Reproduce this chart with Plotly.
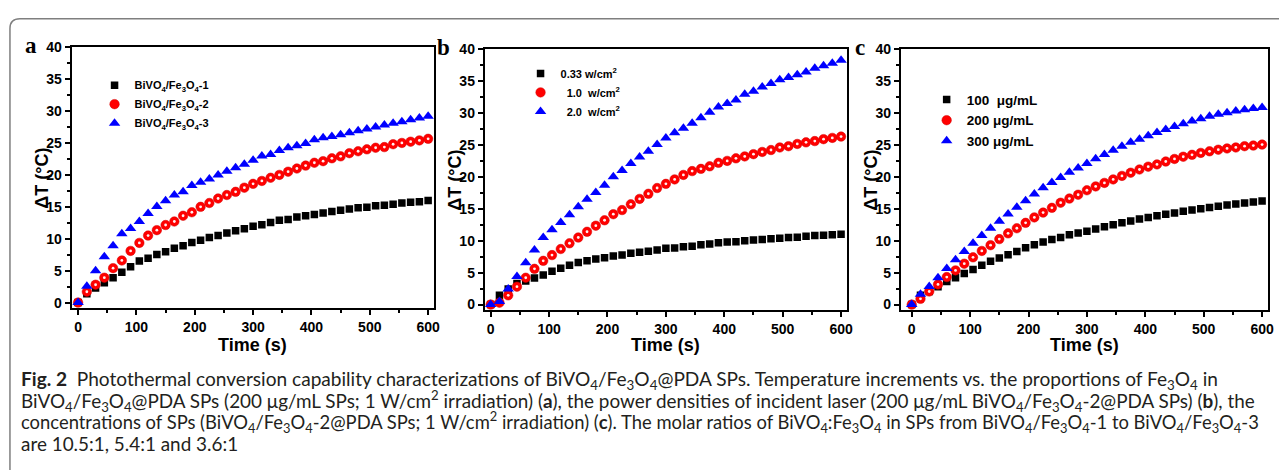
import plotly.graph_objects as go

W, H = 1285, 472

time_s = list(range(0, 601, 15))

# Panel a: proportions of Fe3O4
a_names = ["BiVO<sub>4</sub>/Fe<sub>3</sub>O<sub>4</sub>-1",
           "BiVO<sub>4</sub>/Fe<sub>3</sub>O<sub>4</sub>-2",
           "BiVO<sub>4</sub>/Fe<sub>3</sub>O<sub>4</sub>-3"]
a1 = [0, 1.4, 2.3, 3.1, 3.9, 4.75, 5.6, 6.5, 6.95, 7.55, 7.95, 8.5, 8.9, 9.4, 9.75, 10.2, 10.5, 10.9,
      11.25, 11.55, 11.95, 12.2, 12.55, 12.9, 13.0, 13.4, 13.6, 13.8, 14.05, 14.25, 14.45, 14.65, 14.85,
      14.95, 15.15, 15.25, 15.4, 15.6, 15.7, 15.8, 16.0]
a2 = [0, 1.7, 2.8, 3.9, 5.4, 6.6, 8.1, 9.35, 10.5, 11.35, 12.15, 12.7, 13.6, 14.15, 15.0, 15.6, 16.3,
      16.85, 17.35, 18.0, 18.6, 19.05, 19.55, 20.0, 20.5, 21.0, 21.45, 21.9, 22.15, 22.6, 22.9, 23.4,
      23.7, 24.0, 24.25, 24.35, 24.8, 25.0, 25.2, 25.4, 25.65]
a3 = [0, 2.55, 5.0, 7.2, 8.9, 10.8, 11.6, 12.7, 13.95, 15.05, 15.95, 16.85, 17.35, 18.35, 18.85, 19.35,
      20.0, 20.55, 21.1, 21.65, 22.3, 22.95, 23.2, 23.8, 24.25, 24.55, 24.9, 25.5, 25.8, 26.0, 26.3,
      26.6, 26.9, 27.2, 27.5, 27.8, 28.1, 28.3, 28.65, 28.9, 29.2]

# Panel b: power densities
b_names = ["0.33 w/cm<sup>2</sup>", "\u00a0\u00a01.0\u00a0\u00a0w/cm<sup>2</sup>",
           "\u00a0\u00a02.0\u00a0\u00a0w/cm<sup>2</sup>"]
b1 = [0, 1.45, 2.45, 3.3, 3.7, 4.15, 4.65, 5.2, 5.7, 6.15, 6.6, 6.85, 7.15, 7.35, 7.6, 7.75, 8.05,
      8.2, 8.35, 8.55, 8.8, 8.85, 9.05, 9.15, 9.35, 9.5, 9.7, 9.8, 9.85, 10.0, 10.1, 10.2, 10.3, 10.4,
      10.5, 10.55, 10.7, 10.8, 10.85, 10.95, 11.0]
b2 = [0, 0.3, 1.45, 2.8, 4.2, 5.6, 6.85, 7.75, 8.7, 9.6, 10.5, 11.4, 12.35, 13.2, 14.15, 14.8, 15.7,
      16.55, 17.35, 18.25, 18.9, 19.6, 20.3, 20.9, 21.25, 21.65, 22.2, 22.5, 22.9, 23.2, 23.55, 23.9,
      24.2, 24.6, 24.8, 25.15, 25.4, 25.6, 25.9, 26.1, 26.3]
b3 = [0, 0.5, 2.45, 4.4, 6.55, 8.55, 10.5, 11.7, 12.85, 14.05, 15.3, 16.5, 17.55, 18.7, 20.0, 21.0,
      22.1, 23.1, 24.0, 25.05, 26.1, 26.9, 27.6, 28.4, 29.25, 30.1, 30.95, 31.5, 32.05, 32.95, 33.4,
      34.05, 34.6, 35.2, 35.55, 36.0, 36.4, 37.0, 37.4, 37.8, 38.25]

# Panel c: concentrations
c_names = ["100\u00a0\u00a0\u03bcg/mL", "200 \u03bcg/mL", "300 \u03bcg/mL"]
c1 = [0, 1.45, 2.05, 2.8, 3.6, 4.2, 4.85, 5.5, 6.15, 6.8, 7.3, 7.8, 8.3, 8.9, 9.35, 9.8, 10.2, 10.5,
      10.95, 11.2, 11.5, 11.85, 12.2, 12.5, 12.8, 13.1, 13.4, 13.65, 13.9, 14.15, 14.35, 14.6, 14.8,
      15.0, 15.2, 15.4, 15.6, 15.75, 15.9, 16.05, 16.2]
c2 = [0, 0.9, 2.05, 3.15, 4.3, 5.35, 6.4, 7.4, 8.4, 9.3, 10.25, 11.15, 11.95, 12.8, 13.65, 14.4, 15.15,
      15.95, 16.6, 17.2, 17.9, 18.5, 19.05, 19.6, 20.15, 20.65, 21.15, 21.6, 21.95, 22.4, 22.8, 23.15,
      23.45, 23.75, 24.0, 24.25, 24.45, 24.6, 24.8, 24.9, 25.05]
c3 = [0, 1.6, 2.85, 4.2, 5.65, 7.0, 8.3, 9.6, 10.8, 11.95, 13.05, 14.2, 15.25, 16.25, 17.3, 18.3, 19.1,
      19.9, 20.7, 21.4, 22.1, 22.85, 23.5, 24.15, 24.8, 25.4, 25.9, 26.45, 26.95, 27.4, 27.9, 28.3,
      28.75, 29.1, 29.5, 29.8, 30.05, 30.3, 30.5, 30.7, 30.85]

panel_letters = ["a", "b", "c"]
x_title = "Time (s)"
y_title = "\u0394T (\u00b0C)"

caption_lines = [
    "<b>Fig. 2</b>\u00a0\u00a0Photothermal conversion capability characterizations of BiVO<sub>4</sub>/Fe<sub>3</sub>O<sub>4</sub>@PDA SPs. Temperature increments vs. the proportions of Fe<sub>3</sub>O<sub>4</sub> in",
    "BiVO<sub>4</sub>/Fe<sub>3</sub>O<sub>4</sub>@PDA SPs (200 \u03bcg/mL SPs; 1 W/cm<sup>2</sup> irradiation) (<b>a</b>), the power densities of incident laser (200 \u03bcg/mL BiVO<sub>4</sub>/Fe<sub>3</sub>O<sub>4</sub>-2@PDA SPs) (<b>b</b>), the",
    "concentrations of SPs (BiVO<sub>4</sub>/Fe<sub>3</sub>O<sub>4</sub>-2@PDA SPs; 1 W/cm<sup>2</sup> irradiation) (<b>c</b>). The molar ratios of BiVO<sub>4</sub>:Fe<sub>3</sub>O<sub>4</sub> in SPs from BiVO<sub>4</sub>/Fe<sub>3</sub>O<sub>4</sub>-1 to BiVO<sub>4</sub>/Fe<sub>3</sub>O<sub>4</sub>-3",
    "are 10.5:1, 5.4:1 and 3.6:1",
]

def px(x):
    return x / W

def py(y):
    return 1 - y / H

# panel geometry (pixels): left, right, top, bottom, xrange, yrange
panels = [
    dict(l=72, r=436, t=40, b=307, xr=[-11, 610], yr=[-0.92, 40],
         series=(a1, a2, a3), names=a_names, leg=(95, 64), legfont=11),
    dict(l=487, r=851, t=42, b=309, xr=[-10.2, 610.2], yr=[-0.92, 40],
         series=(b1, b2, b3), names=b_names, leg=(523, 52), legfont=11),
    dict(l=905, r=1274, t=42, b=309, xr=[-18.75, 610.2], yr=[-0.92, 40],
         series=(c1, c2, c3), names=c_names, leg=(931, 78), legfont=13.5),
]

BOLD = dict(family="Liberation Sans, Arial", color="#000000", weight="bold")

fig = go.Figure()
annotations = []
layout_axes = {}

for i, p in enumerate(panels):
    n = i + 1
    xa = "x" if n == 1 else f"x{n}"
    ya = "y" if n == 1 else f"y{n}"
    legname = "legend" if n == 1 else f"legend{n}"
    s1, s2, s3 = p["series"]
    fig.add_trace(go.Scatter(x=time_s, y=s1, mode="markers", name=p["names"][0],
                             xaxis=xa, yaxis=ya, legend=legname,
                             marker=dict(symbol="square", size=7.5, color="#000000")))
    fig.add_trace(go.Scatter(x=time_s, y=s2, mode="markers", name=p["names"][1],
                             xaxis=xa, yaxis=ya, legend=legname,
                             marker=dict(symbol="circle", size=9.5, color="#ff0000",
                                         line=dict(color="#d00000", width=0.5))))
    fig.add_trace(go.Scatter(x=time_s, y=s2, mode="markers", showlegend=False, hoverinfo="skip",
                             xaxis=xa, yaxis=ya,
                             marker=dict(symbol="circle", size=2.8, color="#fff0f0")))
    fig.add_trace(go.Scatter(x=time_s, y=s3, mode="markers", name=p["names"][2],
                             xaxis=xa, yaxis=ya, legend=legname,
                             marker=dict(symbol="triangle-up", size=10, color="#0000ff")))

    axis_common = dict(showline=True, linewidth=2, linecolor="#000000", mirror=True,
                       showgrid=False, zeroline=False, ticks="outside", ticklen=5,
                       tickwidth=1.5, tickcolor="#000000",
                       tickfont=dict(BOLD, size=14))
    layout_axes["xaxis" if n == 1 else f"xaxis{n}"] = dict(
        axis_common, domain=[px(p["l"]), px(p["r"])], range=p["xr"],
        anchor=ya, tickmode="linear", tick0=0, dtick=100,
        minor=dict(dtick=50, tick0=0, ticks="outside", ticklen=3, tickwidth=1.5,
                   tickcolor="#000000", showgrid=False))
    layout_axes["yaxis" if n == 1 else f"yaxis{n}"] = dict(
        axis_common, domain=[py(p["b"]), py(p["t"])], range=p["yr"],
        anchor=xa, tickmode="linear", tick0=0, dtick=5,
        minor=dict(dtick=2.5, tick0=0, ticks="outside", ticklen=3, tickwidth=1.5,
                   tickcolor="#000000", showgrid=False))
    layout_axes[legname] = dict(
        x=px(p["leg"][0]), y=py(p["leg"][1]), xanchor="left", yanchor="top",
        bgcolor="rgba(0,0,0,0)", borderwidth=0, tracegroupgap=0,
        font=dict(BOLD, size=p["legfont"]))

    annotations.append(dict(text=x_title, xref="paper", yref="paper",
                            x=px((p["l"] + p["r"]) / 2), y=py(344), xanchor="center",
                            yanchor="middle", showarrow=False, font=dict(BOLD, size=18)))
    annotations.append(dict(text=y_title, xref="paper", yref="paper",
                            x=px(p["l"] - 30), y=py((p["t"] + p["b"]) / 2), xanchor="center",
                            yanchor="middle", showarrow=False, textangle=-90,
                            font=dict(BOLD, size=18)))
    annotations.append(dict(text=panel_letters[i], xref="paper", yref="paper",
                            x=px(p["l"] - 41), y=py(p["t"] - 2), xanchor="center",
                            yanchor="middle", showarrow=False,
                            font=dict(family="Liberation Serif, Times New Roman", size=23,
                                      color="#000000", weight="bold")))

caption_y = [380, 402, 423, 445]
caption_size = [19.1, 18.9, 18.4, 18.9]
for line, yy, fs in zip(caption_lines, caption_y, caption_size):
    annotations.append(dict(text=line, xref="paper", yref="paper", x=px(19), y=py(yy),
                            xanchor="left", yanchor="middle", showarrow=False, align="left",
                            font=dict(family="Lato, Open Sans", size=fs, color="#231f20")))

# outer frame (left and top edges with rounded corner)
r = 10
x0, y0 = 10, 11
path = (f"M {px(x0)},0 L {px(x0)},{py(y0 + r)} "
        f"Q {px(x0)},{py(y0)} {px(x0 + r)},{py(y0)} L 1,{py(y0)}")

fig.update_layout(
    width=W, height=H, margin=dict(l=0, r=0, t=0, b=0),
    paper_bgcolor="#ffffff", plot_bgcolor="#ffffff",
    annotations=annotations,
    shapes=[dict(type="path", path=path, xref="paper", yref="paper",
                 line=dict(color="#7f7f7f", width=1.5))],
    **layout_axes,
)

fig.write_html("out.html", config={"displayModeBar": False},
               post_script="document.body.style.margin='0';")
